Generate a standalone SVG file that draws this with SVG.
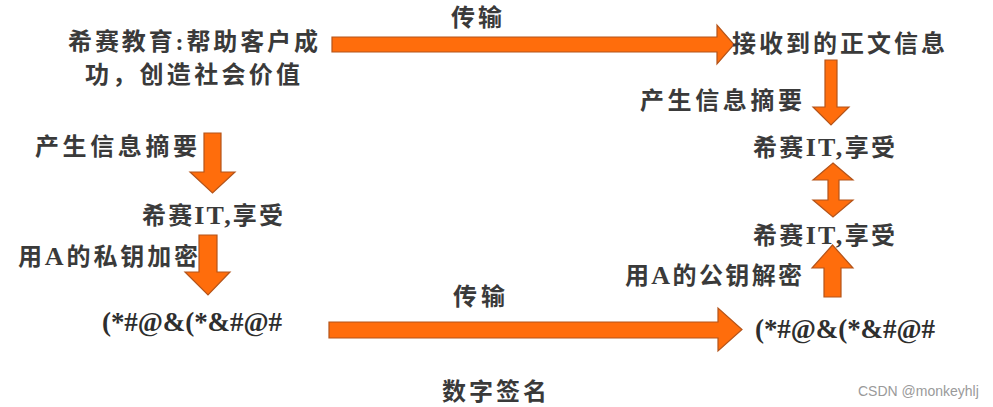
<svg xmlns="http://www.w3.org/2000/svg" width="993" height="407" viewBox="0 0 993 407">
<style>
.t{font-family:"Liberation Serif","Noto Sans CJK SC",serif;font-size:24px;font-weight:bold;fill:#3a3a3a}
.c{font-family:"Liberation Serif","Noto Sans CJK SC",serif;font-size:27px;font-weight:bold;fill:#2e2e2e}
.l{font-size:26px}
.a{fill:#FF6D0C;stroke:#B4541A;stroke-width:1.2;stroke-linejoin:miter}
.w{font-family:"Liberation Sans",Arial,sans-serif;font-size:14px;fill:#9a9a9a}
</style>
<rect width="993" height="407" fill="#ffffff"/>
<g id="connectors">
<polygon class="a" points="332,37 717,37 717,25 734,44.5 717,64 717,52 332,52"/>
<polygon class="a" points="825,60 837,60 837,107 849,107 831,125 813,107 825,107"/>
<polygon class="a" points="833,163 853,180 839,180 839,200 853,200 833,217 813,200 828,200 828,180 813,180"/>
<polygon class="a" points="832.5,245 853,268 841,268 841,297 824,297 824,268 812,268"/>
<polygon class="a" points="204,133 221,133 221,172 235,172 212.5,193 190,172 204,172"/>
<polygon class="a" points="199,235 217,235 217,272 230,272 208,295 185,272 199,272"/>
<polygon class="a" points="329,322 718,322 718,308 742,329.5 718,351 718,338 329,338"/>
</g>
<g id="source">
<text class="t" x="68" y="50" textLength="250" lengthAdjust="spacing">希赛教育:帮助客户成</text>
<text class="t" x="85" y="83" textLength="215" lengthAdjust="spacing">功，创造社会价值</text>
</g>
<g id="label-transfer-top"><text class="t" x="451" y="26" textLength="51" lengthAdjust="spacing">传输</text></g>
<g id="received"><text class="t" x="732" y="52" textLength="213" lengthAdjust="spacing">接收到的正文信息</text></g>
<g id="label-digest-right"><text class="t" x="640" y="109" textLength="162" lengthAdjust="spacing">产生信息摘要</text></g>
<g id="digest-right-1"><text class="t" x="753" y="156" textLength="142" lengthAdjust="spacing">希赛<tspan class="l">IT,</tspan>享受</text></g>
<g id="digest-right-2"><text class="t" x="753" y="244" textLength="142" lengthAdjust="spacing">希赛<tspan class="l">IT,</tspan>享受</text></g>
<g id="label-decrypt"><text class="t" x="625" y="284" textLength="177" lengthAdjust="spacing">用<tspan class="l">A</tspan>的公钥解密</text></g>
<g id="cipher-right"><text class="c" x="755" y="338" textLength="180" lengthAdjust="spacing">(*#@&amp;(*&amp;#@#</text></g>
<g id="label-transfer-bottom"><text class="t" x="453" y="305" textLength="52" lengthAdjust="spacing">传输</text></g>
<g id="title"><text class="t" x="442" y="400" textLength="105" lengthAdjust="spacing">数字签名</text></g>
<g id="label-digest-left"><text class="t" x="35" y="155" textLength="162" lengthAdjust="spacing">产生信息摘要</text></g>
<g id="digest-left"><text class="t" x="142" y="224" textLength="141" lengthAdjust="spacing">希赛<tspan class="l">IT,</tspan>享受</text></g>
<g id="label-encrypt"><text class="t" x="18" y="265" textLength="180" lengthAdjust="spacing">用<tspan class="l">A</tspan>的私钥加密</text></g>
<g id="cipher-left"><text class="c" x="102" y="331" textLength="180" lengthAdjust="spacing">(*#@&amp;(*&amp;#@#</text></g>
<g id="watermark"><text class="w" x="858" y="396">CSDN @monkeyhlj</text></g>
</svg>
